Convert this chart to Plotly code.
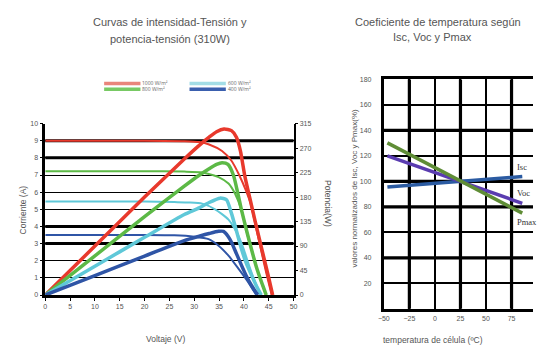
import plotly.graph_objects as go

W, H = 537, 349

# ---------------- left chart data (I-V and P-V curves) ----------------
irradiance = ["1000 W/m²", "800 W/m²", "600 W/m²", "400 W/m²"]
curve_colors = ["#e8392c", "#5cb946", "#5fc8d8", "#2f55a6"]
legend_colors = ["#e9857b", "#78c964", "#a3dde6", "#3a5fae"]

iv_v_1000 = [0, 20, 28, 31, 33, 35.6, 37.5, 39.1, 40.4, 41.4, 42.4, 43.4, 44.5, 45.6]
iv_i_1000 = [9.0, 9.0, 8.97, 8.92, 8.78, 8.4, 7.83, 6.97, 6.1, 5.3, 4.0, 2.7, 1.3, 0]
iv_v_800 = [0, 20, 28, 31.6, 34.9, 36.9, 38.2, 39.5, 40.3, 41.1, 42.0, 42.8, 43.7, 44.5]
iv_i_800 = [7.22, 7.22, 7.2, 7.15, 6.88, 6.5, 5.92, 4.97, 4.0, 3.08, 2.2, 1.37, 0.6, 0]
iv_v_600 = [0, 20, 26, 29, 31.6, 34.2, 36.9, 38.9, 40.0, 40.8, 41.8, 42.8, 43.5]
iv_i_600 = [5.45, 5.45, 5.42, 5.4, 5.33, 5.0, 4.4, 3.45, 2.65, 1.93, 1.1, 0.4, 0]
iv_v_400 = [0, 20, 26, 30, 32.9, 34.9, 36.9, 38.9, 40.8, 42.5]
iv_i_400 = [3.5, 3.5, 3.48, 3.4, 3.26, 2.88, 2.3, 1.54, 0.78, 0]

pv_v_1000 = [0, 10, 20, 28, 31, 33, 34.5, 36, 37.5, 38.5, 39.3, 40.2, 41.2, 42.2, 43.2, 44.1, 45, 45.8]
pv_p_1000 = [0, 90, 180, 250, 275, 290, 300, 305, 302, 290, 265, 218, 178, 138, 100, 66, 32, 0]
pv_v_800 = [0, 10, 20, 28, 31, 33, 34.5, 35.6, 36.8, 37.9, 38.7, 39.5, 40.5, 41.5, 42.5, 43.5, 44.5]
pv_p_800 = [0, 72, 144, 200, 220, 232, 240, 243, 240, 220, 190, 157, 120, 85, 52, 25, 0]
pv_v_600 = [0, 10, 20, 28, 31, 33, 35.2, 36.5, 37.5, 38.5, 39.5, 40.5, 41.5, 42.5, 43.5]
pv_p_600 = [0, 53, 106, 148, 160, 170, 178, 175, 150, 118, 85, 58, 37, 17, 0]
pv_v_400 = [0, 10, 20, 28, 31, 33, 34.9, 35.9, 36.8, 37.5, 38.5, 39.5, 40.5, 41.5, 42.8]
pv_p_400 = [0, 35.7, 71.4, 100, 108, 113, 117, 117, 108, 97, 76, 55, 35, 18, 0]

iv_curves = [(iv_v_1000, iv_i_1000), (iv_v_800, iv_i_800), (iv_v_600, iv_i_600), (iv_v_400, iv_i_400)]
pv_curves = [(pv_v_1000, pv_p_1000), (pv_v_800, pv_p_800), (pv_v_600, pv_p_600), (pv_v_400, pv_p_400)]

voltage_ticks = [0, 5, 10, 15, 20, 25, 30, 35, 40, 45, 50]
current_ticks = [0, 1, 2, 3, 4, 5, 6, 7, 8, 9, 10]
power_ticks = [0, 45, 90, 135, 180, 225, 270, 315]
thick_current_grid = [3, 4, 8, 9]

# ---------------- right chart data (temperature coefficients) ----------------
temperature = [-46.5, 25, 85.5]
isc_pct = [95.6, 100, 103.8]
voc_pct = [120, 100, 82.8]
pmax_pct = [130.2, 100, 75.1]
coef_names = ["Isc", "Voc", "Pmax"]
coef_colors = ["#2b5ba2", "#5a3cb0", "#5f8d36"]
temp_ticks = [-50, -25, 0, 25, 50, 75, 100]
pct_ticks = [20, 40, 60, 80, 100, 120, 140, 160, 180]
thick_temp_grid = [-25, 25, 75]
thick_pct_grid = [40, 80, 100, 140]


def px(x):
    return x / W


def py(y):
    return 1 - y / H


fig = go.Figure()

for (v, i), c in zip(iv_curves, curve_colors):
    fig.add_trace(go.Scatter(x=v, y=i, mode="lines", line=dict(color=c, width=2, shape="spline", smoothing=0.6),
                             xaxis="x", yaxis="y", hoverinfo="skip", showlegend=False))
for (v, p), c in zip(pv_curves, curve_colors):
    fig.add_trace(go.Scatter(x=v, y=p, mode="lines", line=dict(color=c, width=3.5, shape="spline", smoothing=0.6),
                             xaxis="x", yaxis="y2", hoverinfo="skip", showlegend=False))

for vals, c in zip([isc_pct, voc_pct, pmax_pct], coef_colors):
    fig.add_trace(go.Scatter(x=temperature, y=vals, mode="lines", line=dict(color=c, width=3.5),
                             xaxis="x2", yaxis="y3", hoverinfo="skip", showlegend=False))

shapes = []
for g in thick_current_grid:
    shapes.append(dict(type="line", xref="x domain", yref="y", x0=0, x1=1, y0=g, y1=g,
                       line=dict(color="black", width=3), layer="below"))
for g in thick_temp_grid:
    shapes.append(dict(type="line", xref="x2", yref="y3 domain", x0=g, x1=g, y0=0, y1=1,
                       line=dict(color="black", width=3.2), layer="below"))
for g in thick_pct_grid:
    shapes.append(dict(type="line", xref="x2 domain", yref="y3", x0=0, x1=1, y0=g, y1=g,
                       line=dict(color="black", width=3.2), layer="below"))

# legend samples (left chart)
leg_pos = [(100, 81), (100, 87), (187, 81), (187, 87)]
annotations = []
for (lx, ly), c, lab in zip(leg_pos, legend_colors, irradiance):
    shapes.append(dict(type="line", xref="paper", yref="paper", x0=px(lx), x1=px(lx + 37),
                       y0=py(ly), y1=py(ly), line=dict(color=c, width=3.5)))
    annotations.append(dict(xref="paper", yref="paper", x=px(lx + 37), y=py(ly), text=lab, showarrow=False,
                            xanchor="left", yanchor="middle", font=dict(size=5, color="#666")))

txt = "#555555"
font_fam = "Liberation Sans, Arial, sans-serif"


def ann(x, y, text, size, angle=0, color=txt, family=font_fam, xanchor="center"):
    annotations.append(dict(xref="paper", yref="paper", x=px(x), y=py(y), text=text, showarrow=False,
                            xanchor=xanchor, yanchor="middle", textangle=angle,
                            font=dict(size=size, color=color, family=family)))


ann(167, 18, "Curvas de intensidad-Tensión y", 11)
ann(167, 36, "potencia-tensión (310W)", 11)
ann(440, 18, "Coeficiente de temperatura según", 11)
ann(435, 34, "Isc, Voc y Pmax", 11)
ann(163, 342, "Voltaje (V)", 8.5)
ann(17, 210, "Corriente (A)", 8.5, angle=-90)
ann(328, 204, "Potencia(W)", 8.5, angle=90)
ann(355, 188, "valores normalizados de Isc, Voc y Pmax(%)", 8, angle=-90)
ann(435, 343, "temperatura de célula (ºC)", 8.5)

# coefficient line labels
label_y = [166, 193, 222]
for name, ly in zip(coef_names, label_y):
    ann(519, ly, name, 8.5, color="#333", family="Liberation Serif, Times New Roman, serif", xanchor="left")

tickfont = dict(size=7, color="#555", family=font_fam)

fig.update_layout(
    width=W, height=H, autosize=False,
    margin=dict(l=0, r=0, t=0, b=0),
    paper_bgcolor="white", plot_bgcolor="white",
    showlegend=False,
    shapes=shapes, annotations=annotations,
    xaxis=dict(domain=[px(40), px(293)], anchor="y", range=[0, 50], tickvals=voltage_ticks,
               ticks="outside", ticklen=3, tickwidth=1.2, tickcolor="black",
               showline=True, linewidth=2.5, linecolor="black", showgrid=False, zeroline=False,
               tickfont=tickfont, fixedrange=True),
    yaxis=dict(domain=[py(297), py(122)], anchor="x", range=[0, 10], tickvals=current_ticks,
               ticks="outside", ticklen=3, tickwidth=1.2, tickcolor="black",
               showline=True, linewidth=2.5, linecolor="black", showgrid=True, gridcolor="black",
               gridwidth=1.3, zeroline=False, tickfont=tickfont, fixedrange=True),
    yaxis2=dict(overlaying="y", side="right", anchor="x", range=[0, 315], tickvals=power_ticks,
                ticks="outside", ticklen=3, tickwidth=1.2, tickcolor="black",
                showline=True, linewidth=1.5, linecolor="black", showgrid=False, zeroline=False,
                tickfont=tickfont, fixedrange=True),
    xaxis2=dict(domain=[px(385), 1], anchor="y3", range=[-50, 96], tickvals=temp_ticks,
                ticks="outside", ticklen=1, tickcolor="rgba(0,0,0,0)",
                showline=True, linewidth=3, linecolor="black", mirror=True,
                showgrid=True, gridcolor="black", gridwidth=2, zeroline=False,
                tickfont=tickfont, fixedrange=True),
    yaxis3=dict(domain=[py(311), py(77)], anchor="x2", range=[0, 180], tickvals=pct_ticks,
                ticks="outside", ticklen=8, tickcolor="rgba(0,0,0,0)",
                showline=True, linewidth=3, linecolor="black",
                showgrid=True, gridcolor="black", gridwidth=2, zeroline=False,
                tickfont=tickfont, fixedrange=True),
)

fig.write_html("out.html", config={"displayModeBar": False},
               post_script="document.body.style.margin='0';document.body.style.padding='0';")
